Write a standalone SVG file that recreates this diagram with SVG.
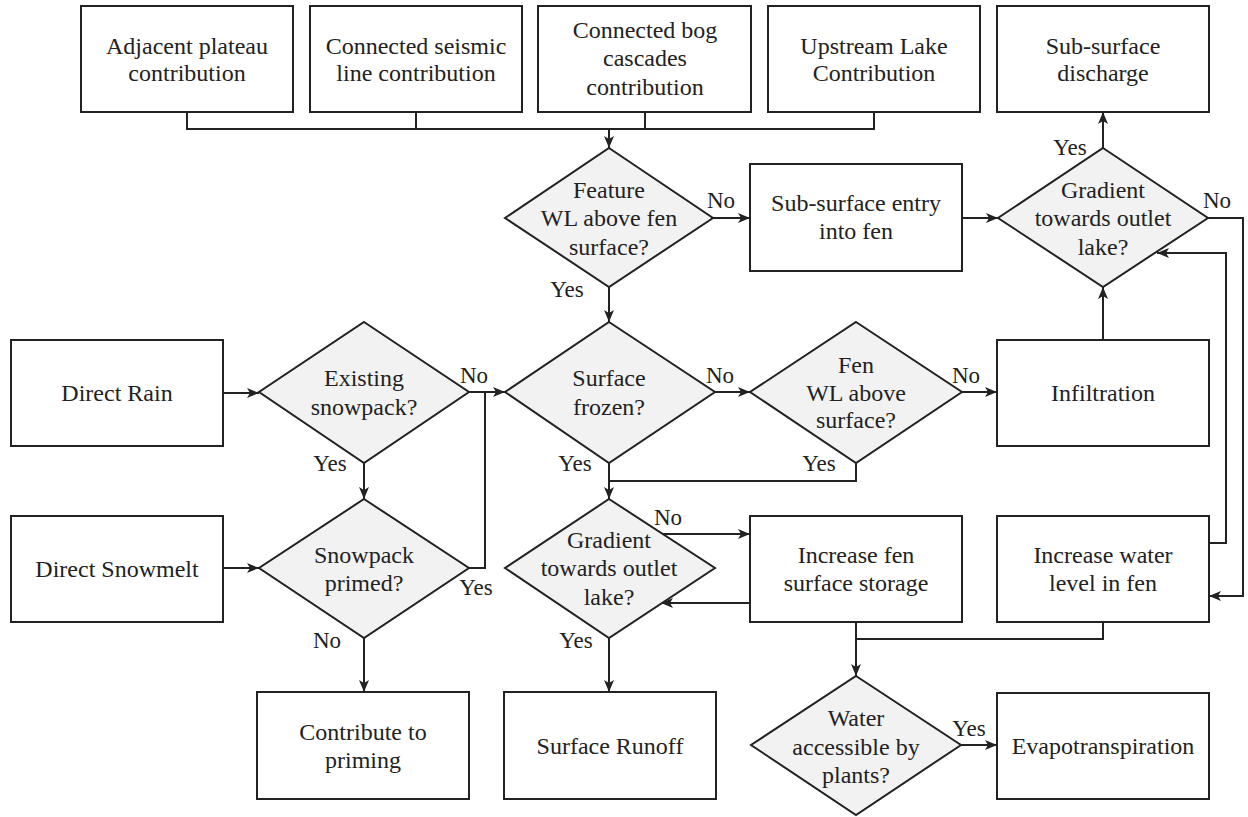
<svg xmlns="http://www.w3.org/2000/svg" width="1248" height="817" viewBox="0 0 1248 817" font-family="Liberation Serif, Times New Roman, Times, Tinos, Noto Serif, DejaVu Serif, FreeSerif, serif">
<style>
.box{fill:#fff;stroke:#222;stroke-width:2}
.dia{fill:#f2f2f2;stroke:#222;stroke-width:2}
.t{font-size:24px;fill:#222;text-anchor:middle;dominant-baseline:central}
.lb{font-size:23px;fill:#222;text-anchor:middle;dominant-baseline:central}
.c{fill:none;stroke:#222;stroke-width:2}
.a{marker-end:url(#arr)}
</style>
<defs>
<marker id="arr" markerUnits="userSpaceOnUse" markerWidth="12" markerHeight="10" viewBox="0 0 12 10" refX="12" refY="5" orient="auto">
<path d="M0,0 L12,5 L0,10 L3,5 z" fill="#222"/>
</marker>
</defs>
<rect width="1248" height="817" fill="#fff"/>
<g id="connectors">
<path class="c" d="M187,112 V129 H874 V112 M416,112 V129 M645,112 V129"/>
<path class="c a" d="M609,129 V148"/>
<path class="c a" d="M609,287 V322"/>
<path class="c a" d="M713,218 H750"/>
<path class="c a" d="M962,218 H998"/>
<path class="c a" d="M1103,148 V112"/>
<path class="c a" d="M1208,218 H1243 V596 H1209"/>
<path class="c a" d="M1209,543 H1226 V253 H1157"/>
<path class="c a" d="M1103,340 V287"/>
<path class="c a" d="M715,392 H750"/>
<path class="c a" d="M962,392 H997"/>
<path class="c" d="M856,463 V481 H609"/>
<path class="c a" d="M609,463 V499"/>
<path class="c a" d="M223,393 H259"/>
<path class="c a" d="M469,392 H505"/>
<path class="c" d="M469,568 H485 V392"/>
<path class="c a" d="M364,463 V499"/>
<path class="c a" d="M223,568 H259"/>
<path class="c a" d="M364,638 V692"/>
<path class="c a" d="M663,534 H750"/>
<path class="c a" d="M750,603 H661"/>
<path class="c a" d="M609,638 V692"/>
<path class="c a" d="M856,622 V676"/>
<path class="c" d="M1103,622 V639 H856"/>
<path class="c a" d="M961,745 H997"/>
</g>
<g id="labels">
<text class="lb" x="567" y="289">Yes</text>
<text class="lb" x="721" y="200">No</text>
<text class="lb" x="1070" y="147">Yes</text>
<text class="lb" x="1217" y="200">No</text>
<text class="lb" x="474" y="375">No</text>
<text class="lb" x="330" y="463">Yes</text>
<text class="lb" x="476" y="587">Yes</text>
<text class="lb" x="327" y="640">No</text>
<text class="lb" x="720" y="375">No</text>
<text class="lb" x="575" y="463">Yes</text>
<text class="lb" x="966" y="375">No</text>
<text class="lb" x="819" y="463">Yes</text>
<text class="lb" x="668" y="517">No</text>
<text class="lb" x="576" y="640">Yes</text>
<text class="lb" x="969" y="728">Yes</text>
</g>
<g id="n-adjacent"><rect class="box" x="81" y="6" width="212" height="106"/><text class="t" x="187" y="46">Adjacent plateau</text><text class="t" x="187" y="73">contribution</text></g>
<g id="n-seismic"><rect class="box" x="310" y="6" width="212" height="106"/><text class="t" x="416" y="46">Connected seismic</text><text class="t" x="416" y="73">line contribution</text></g>
<g id="n-bog"><rect class="box" x="538" y="6" width="213" height="106"/><text class="t" x="645" y="30">Connected bog</text><text class="t" x="645" y="58">cascades</text><text class="t" x="645" y="87">contribution</text></g>
<g id="n-upstream"><rect class="box" x="768" y="6" width="212" height="106"/><text class="t" x="874" y="46">Upstream Lake</text><text class="t" x="874" y="73">Contribution</text></g>
<g id="n-discharge"><rect class="box" x="997" y="6" width="212" height="106"/><text class="t" x="1103" y="46">Sub-surface</text><text class="t" x="1103" y="73">discharge</text></g>
<g id="n-feature"><polygon class="dia" points="609,148 713,218 609,287 505,218"/><text class="t" x="609" y="190">Feature</text><text class="t" x="609" y="218">WL above fen</text><text class="t" x="609" y="247">surface?</text></g>
<g id="n-entry"><rect class="box" x="750" y="164" width="212" height="107"/><text class="t" x="856" y="203">Sub-surface entry</text><text class="t" x="856" y="231">into fen</text></g>
<g id="n-grad1"><polygon class="dia" points="1103,148 1208,218 1103,287 998,218"/><text class="t" x="1103" y="190">Gradient</text><text class="t" x="1103" y="218">towards outlet</text><text class="t" x="1103" y="247">lake?</text></g>
<g id="n-rain"><rect class="box" x="11" y="340" width="212" height="106"/><text class="t" x="117" y="393">Direct Rain</text></g>
<g id="n-existing"><polygon class="dia" points="364,322 469,392 364,463 259,392"/><text class="t" x="364" y="378">Existing</text><text class="t" x="364" y="407">snowpack?</text></g>
<g id="n-frozen"><polygon class="dia" points="609,322 715,392 609,463 505,392"/><text class="t" x="609" y="378">Surface</text><text class="t" x="609" y="407">frozen?</text></g>
<g id="n-fenwl"><polygon class="dia" points="856,322 962,392 856,463 750,392"/><text class="t" x="856" y="365">Fen</text><text class="t" x="856" y="393">WL above</text><text class="t" x="856" y="420">surface?</text></g>
<g id="n-infiltration"><rect class="box" x="997" y="340" width="212" height="106"/><text class="t" x="1103" y="393">Infiltration</text></g>
<g id="n-snowmelt"><rect class="box" x="11" y="516" width="212" height="106"/><text class="t" x="117" y="569">Direct Snowmelt</text></g>
<g id="n-primed"><polygon class="dia" points="364,499 469,568 364,638 259,568"/><text class="t" x="364" y="555">Snowpack</text><text class="t" x="364" y="583">primed?</text></g>
<g id="n-grad2"><polygon class="dia" points="609,499 715,568 609,638 505,568"/><text class="t" x="609" y="540">Gradient</text><text class="t" x="609" y="568">towards outlet</text><text class="t" x="609" y="597">lake?</text></g>
<g id="n-storage"><rect class="box" x="750" y="516" width="212" height="106"/><text class="t" x="856" y="555">Increase fen</text><text class="t" x="856" y="583">surface storage</text></g>
<g id="n-waterlevel"><rect class="box" x="997" y="516" width="212" height="106"/><text class="t" x="1103" y="555">Increase water</text><text class="t" x="1103" y="583">level in fen</text></g>
<g id="n-priming"><rect class="box" x="257" y="692" width="212" height="107"/><text class="t" x="363" y="732">Contribute to</text><text class="t" x="363" y="760">priming</text></g>
<g id="n-runoff"><rect class="box" x="504" y="692" width="212" height="107"/><text class="t" x="610" y="746">Surface Runoff</text></g>
<g id="n-accessible"><polygon class="dia" points="856,676 961,745 856,815 751,745"/><text class="t" x="856" y="718">Water</text><text class="t" x="856" y="747">accessible by</text><text class="t" x="856" y="775">plants?</text></g>
<g id="n-evapo"><rect class="box" x="997" y="693" width="212" height="106"/><text class="t" x="1103" y="746">Evapotranspiration</text></g>
</svg>
